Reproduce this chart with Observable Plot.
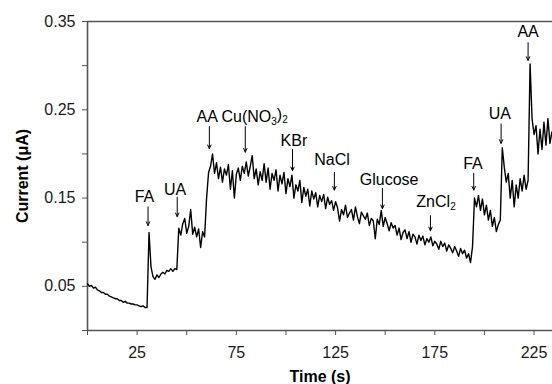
<!DOCTYPE html>
<html><head><meta charset="utf-8">
<script src="https://cdn.jsdelivr.net/npm/d3@7"></script>
<script src="https://cdn.jsdelivr.net/npm/@observablehq/plot@0.6"></script>
<style>
body{margin:0;background:#fff;}
#chart svg{display:block;}
</style></head><body><div id="chart"></div>
<script>
// sampling interval of the recorded trace (s)
const sampleStep = 1;
// current (µA), one reading per second from t = 0 s
const current = [
0.053,0.050,0.051,0.048,0.049,0.046,0.045,0.043,0.043,0.041,
0.041,0.039,0.038,0.037,0.036,0.036,0.034,0.034,0.032,0.033,
0.031,0.031,0.030,0.030,0.029,0.029,0.028,0.027,0.028,0.026,
0.026,0.111,0.072,0.061,0.058,0.063,0.060,0.064,0.066,0.064,
0.068,0.067,0.070,0.067,0.070,0.069,0.116,0.108,0.121,0.127,
0.110,0.118,0.137,0.109,0.117,0.106,0.115,0.094,0.112,0.106,
0.150,0.179,0.186,0.200,0.178,0.190,0.172,0.185,0.168,0.183,
0.176,0.188,0.160,0.181,0.150,0.177,0.184,0.170,0.186,0.178,
0.191,0.175,0.186,0.198,0.172,0.183,0.165,0.180,0.170,0.189,
0.168,0.184,0.160,0.178,0.170,0.182,0.158,0.176,0.166,0.179,
0.155,0.172,0.163,0.176,0.150,0.165,0.158,0.170,0.145,0.162,
0.152,0.160,0.141,0.158,0.149,0.156,0.140,0.153,0.146,0.154,
0.138,0.151,0.143,0.147,0.136,0.146,0.139,0.124,0.137,0.131,
0.142,0.128,0.133,0.137,0.125,0.140,0.129,0.121,0.134,0.130,
0.126,0.133,0.119,0.127,0.124,0.104,0.126,0.120,0.136,0.118,
0.128,0.121,0.113,0.122,0.116,0.119,0.108,0.116,0.103,0.111,
0.114,0.104,0.112,0.100,0.109,0.106,0.098,0.108,0.102,0.107,
0.097,0.104,0.100,0.106,0.096,0.101,0.098,0.092,0.101,0.095,
0.099,0.090,0.097,0.093,0.088,0.095,0.090,0.084,0.093,0.087,
0.091,0.082,0.087,0.077,0.095,0.150,0.140,0.153,0.136,0.149,
0.131,0.142,0.125,0.136,0.118,0.128,0.112,0.120,0.125,0.207,
0.185,0.168,0.178,0.150,0.170,0.140,0.165,0.150,0.172,0.158,
0.176,0.160,0.170,0.302,0.240,0.222,0.232,0.200,0.228,0.205,
0.236,0.210,0.240,0.212,0.225
];

// injection annotations
const eventNames   = ["FA","UA","AA","Cu(NO₃)₂","KBr","NaCl","Glucose","ZnCl₂","FA","UA","AA"];
const eventTime    = [30.5, 45.2, 61.4, 79.5, 103.3, 124.4, 148.6, 172.8, 194.6, 208.4, 222.0];
const arrowTop     = [0.140, 0.151, 0.231, 0.231, 0.205, 0.179, 0.161, 0.130, 0.178, 0.234, 0.326];
const arrowTip     = [0.119, 0.129, 0.206, 0.202, 0.181, 0.159, 0.138, 0.113, 0.159, 0.212, 0.306];
const labelTime    = [28.7, 44.1, 60.3, 84.2, 104.0, 123.2, 152.0, 175.6, 194.2, 207.8, 222.0];
const labelCurrent = [0.151, 0.159, 0.242, 0.242, 0.215, 0.193, 0.171, 0.146, 0.189, 0.245, 0.338];

// axes
const xTicks = [0, 25, 50, 75, 100, 125, 150, 175, 200, 225];
const xTickLabels = [25, 75, 125, 175, 225];
const yTicks = [0, 0.05, 0.10, 0.15, 0.20, 0.25, 0.30, 0.35];
const yTickLabels = ["0.05", "0.15", "0.25", "0.35"];
const xTitle = "Time (s)";
const yTitle = "Current (μA)";

const trace = current.map((v, i) => ({t: i * sampleStep, v}));
const events = eventNames.map((name, i) => ({
  name, t: eventTime[i], y1: arrowTop[i], y2: arrowTip[i], lt: labelTime[i], lv: labelCurrent[i]
}));

const axisColor = "#555";
const chart = Plot.plot({
  width: 552, height: 384,
  marginLeft: 87, marginRight: 0, marginTop: 21, marginBottom: 54,
  style: {fontFamily: "'Liberation Sans', Arial, sans-serif", fontSize: "16px", color: "#1a1a1a", background: "#fff"},
  x: {domain: [0, 234.3]},
  y: {domain: [0, 0.35]},
  marks: [
    Plot.axisX({ticks: xTicks, tickSize: 5, tickPadding: 11, stroke: axisColor, label: null,
      tickFormat: d => xTickLabels.includes(d) ? String(d) : ""}),
    Plot.axisY({ticks: yTicks, tickSize: 5, tickPadding: 7, stroke: axisColor, label: null,
      tickFormat: d => yTickLabels.includes(d.toFixed(2)) ? d.toFixed(2) : ""}),
    Plot.ruleX([0], {stroke: axisColor, strokeWidth: 1.6}),
    Plot.ruleY([0, 0.35], {stroke: axisColor, strokeWidth: 1.6}),
    Plot.line(trace, {x: "t", y: "v", stroke: "#000", strokeWidth: 1.4}),
    Plot.arrow(events, {x1: "t", x2: "t", y1: "y1", y2: "y2", stroke: "#000", strokeWidth: 1, headLength: 6, headAngle: 50}),
    Plot.text(events, {x: "lt", y: "lv", text: "name", fill: "#000", fontSize: 16, lineAnchor: "middle", textAnchor: "middle"}),
    Plot.text([yTitle], {text: d => d, frameAnchor: "left", dx: -65, rotate: -90, fontWeight: "bold", fontSize: 16, textAnchor: "middle", lineAnchor: "middle", fill: "#000"}),
    Plot.text([xTitle], {text: d => d, frameAnchor: "bottom", dy: 46, fontWeight: "bold", fontSize: 16, textAnchor: "middle", lineAnchor: "middle", fill: "#000"})
  ]
});
document.getElementById("chart").appendChild(chart);

// render unicode subscript digits as real subscripts
const subMap = {"₀":"0","₁":"1","₂":"2","₃":"3","₄":"4"};
d3.select(chart).selectAll("text").each(function() {
  const s = this.textContent;
  if (!/[₀-₄]/.test(s)) return;
  const el = d3.select(this);
  el.text(null);
  let sub = false;
  for (const ch of s) {
    const isSub = ch in subMap;
    const span = el.append("tspan").text(isSub ? subMap[ch] : ch);
    if (isSub) span.attr("font-size", "10");
    if (isSub && !sub) span.attr("dy", "0.35em");
    else if (!isSub && sub) span.attr("dy", "-0.35em");
    sub = isSub;
  }
});
</script>
</body></html>
